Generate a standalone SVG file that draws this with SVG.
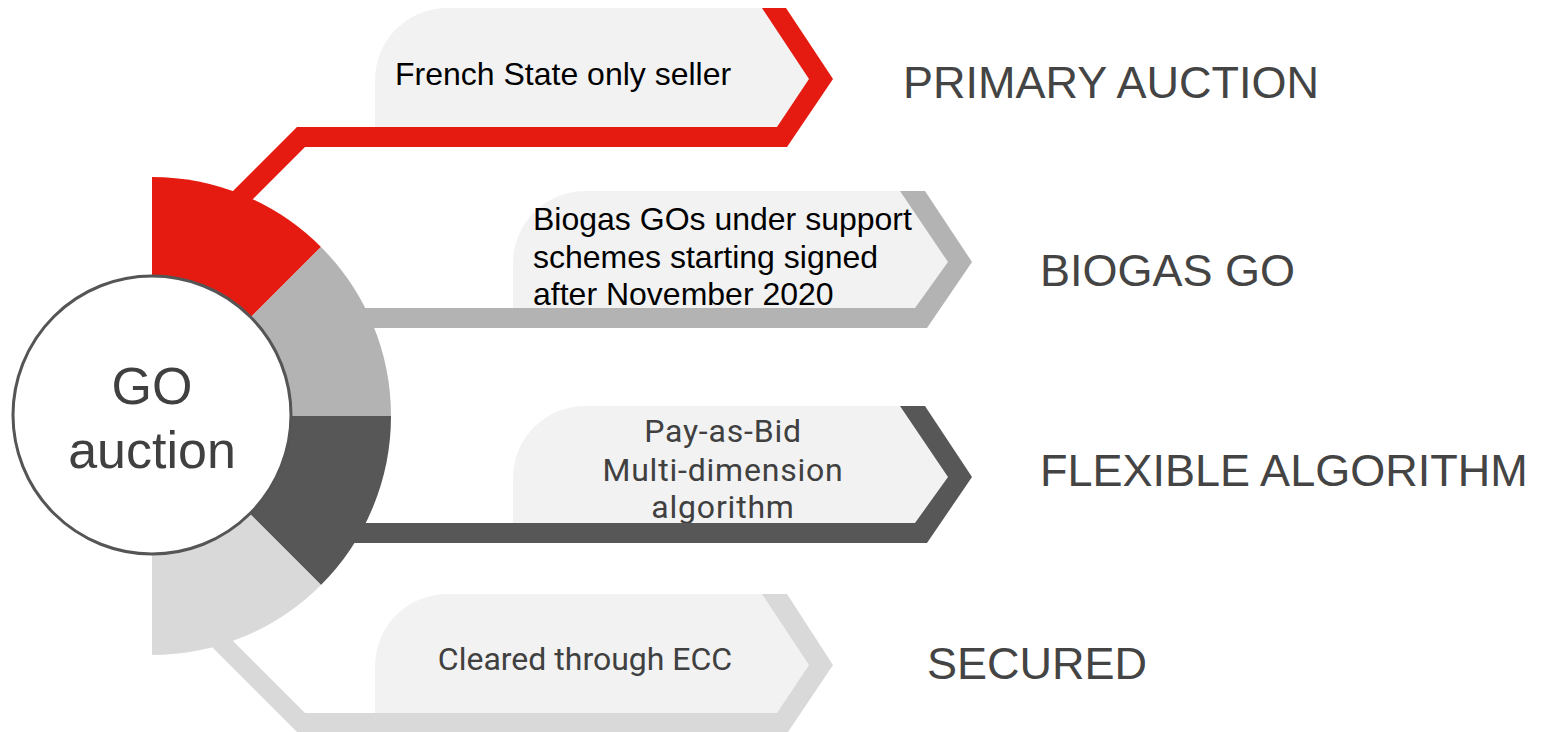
<svg xmlns="http://www.w3.org/2000/svg" width="1549" height="732" viewBox="0 0 1549 732">
<style>
.box{fill:#f2f2f2}
.red{fill:#e51a10}
.gray{fill:#b3b3b3}
.dark{fill:#575757}
.light{fill:#d9d9d9}
.lbl{font-family:"Liberation Sans",Arial,sans-serif;font-size:45px;fill:#444444}
.ta{font-family:"Liberation Sans",Arial,sans-serif;font-size:32px;fill:#000000}
.tr{font-family:Roboto,"Liberation Sans",sans-serif;font-size:32px;fill:#404040;text-anchor:middle}
.sp{letter-spacing:0.8px}
.ct{font-family:"Liberation Sans",Arial,sans-serif;font-size:52px;fill:#404040;text-anchor:middle}
</style>
<rect width="1549" height="732" fill="#ffffff"/>
<g id="node-primary">
<path class="box" d="M375,137 V80 A72,72 0 0 1 447,8 H774 L821,79 L782,137 Z"/>
<text class="ta" x="395" y="85">French State only seller</text>
<text class="lbl" x="903" y="98">PRIMARY AUCTION</text>
</g>
<g id="node-biogas">
<path class="box" d="M513,318 V263 A72,72 0 0 1 585,191 H912 L960,262 L921,318 Z"/>
<text class="ta" x="533" y="230">Biogas GOs under support</text>
<text class="ta" x="533" y="268">schemes starting signed</text>
<text class="ta" x="533" y="305">after November 2020</text>
<text class="lbl" x="1040" y="286">BIOGAS GO</text>
</g>
<g id="node-flexible">
<path class="box" d="M513,533 V478 A72,72 0 0 1 585,406 H912 L960,477 L921,533 Z"/>
<text class="tr sp" x="723" y="442">Pay-as-Bid</text>
<text class="tr sp" x="723" y="481">Multi-dimension</text>
<text class="tr sp" x="723" y="518">algorithm</text>
<text class="lbl" x="1040" y="486">FLEXIBLE ALGORITHM</text>
</g>
<g id="node-secured">
<path class="box" d="M375,722 V666 A72,72 0 0 1 447,594 H774 L821,665 L782,722 Z"/>
<text class="tr" x="585" y="670">Cleared through ECC</text>
<text class="lbl" x="927" y="679">SECURED</text>
</g>
<g id="connectors">
<polygon class="red" points="762,8 786,8 833,79 787,147 305,147 235,217 227,197 297,127 777,127 809,79"/>
<polygon class="gray" points="900,191 925,191 972,262 927,328 340,328 340,308 915,308 948,262"/>
<polygon class="dark" points="900,406 925,406 972,477 927,543 340,543 340,523 915,523 948,477"/>
<polygon class="light" points="762,594 787,594 833,665 788,732 297,732 205,640 212,620 305,713 777,713 809,665"/>
</g>
<g id="node-center">
<path class="red" d="M152,416 L152,177 A239,239 0 0 1 321,247 Z"/>
<path class="gray" d="M152,416 L321,247 A239,239 0 0 1 391,416 Z"/>
<path class="dark" d="M152,416 L391,416 A239,239 0 0 1 321,585 Z"/>
<path class="light" d="M152,416 L321,585 A239,239 0 0 1 152,655 Z"/>
<circle cx="152" cy="415" r="139" fill="#ffffff" stroke="#555555" stroke-width="3"/>
<text class="ct" x="152" y="404">GO</text>
<text class="ct" x="152" y="468">auction</text>
</g>
</svg>
